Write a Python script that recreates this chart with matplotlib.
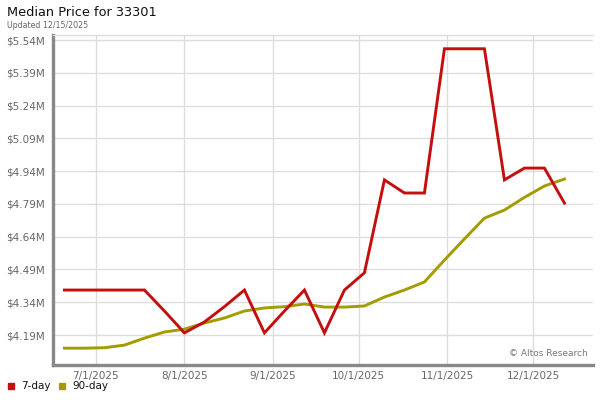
import matplotlib
matplotlib.use("Agg")
import matplotlib.pyplot as plt
import matplotlib.dates as mdates
import numpy as np
import datetime as dt

start = dt.date(2025, 6, 20)
dates = [start + dt.timedelta(days=7 * i) for i in range(26)]

seven_day = [4.396, 4.396, 4.396, 4.396, 4.396, 4.30, 4.20, 4.25, 4.32, 4.396,
             4.20, 4.30, 4.396, 4.20, 4.396, 4.475, 4.90, 4.84, 4.84, 5.50,
             5.50, 5.50, 4.90, 4.954, 4.954, 4.794]
ninety_day = [4.13, 4.13, 4.132, 4.144, 4.176, 4.204, 4.217, 4.245, 4.268, 4.30,
              4.314, 4.32, 4.332, 4.318, 4.318, 4.323, 4.364, 4.396, 4.433, 4.533,
              4.63, 4.725, 4.762, 4.82, 4.872, 4.904]

yticks = [4.19, 4.34, 4.49, 4.64, 4.79, 4.94, 5.09, 5.24, 5.39, 5.54]
xtick_dates = [dt.date(2025, m, 1) for m in range(7, 13)]

RED = "#C50F0F"
OLIVE = "#A39C00"
GRAY = "#888888"

fig = plt.figure(figsize=(6, 4), dpi=100)
ax = fig.add_axes([53 / 600, 1 - 365 / 400, 540 / 600, 330 / 400])

ax.plot(dates, ninety_day, color=OLIVE, lw=2.1, solid_joinstyle="miter", zorder=3)
ax.plot(dates, seven_day, color=RED, lw=2.1, solid_joinstyle="miter", zorder=4)

ax.set_xlim(dt.date(2025, 6, 16), dt.date(2025, 12, 22))
ax.set_ylim(4.053, 5.563)
ax.set_yticks(yticks)
ax.set_yticklabels([f"${v:.2f}M" for v in yticks])
ax.set_xticks(xtick_dates)
ax.set_xticklabels([f"{d.month}/{d.day}/{d.year}" for d in xtick_dates])
ax.tick_params(axis="both", length=0, labelsize=7.5, labelcolor="#666666")
ax.tick_params(axis="y", pad=6)
ax.tick_params(axis="x", pad=4)
ax.grid(True, color="#dddddd", lw=1)
ax.set_axisbelow(True)

ax.spines["right"].set_visible(False)
ax.spines["top"].set_color("#dddddd")
ax.spines["top"].set_linewidth(1)
for s in ["left", "bottom"]:
    ax.spines[s].set_color(GRAY)
    ax.spines[s].set_linewidth(2.4)

fig.text(7 / 600, 1 - 13 / 400, "Median Price for 33301", fontsize=9.3,
         color="#111111", va="center", ha="left")
fig.text(7 / 600, 1 - 25 / 400, "Updated 12/15/2025", fontsize=5.7,
         color="#666666", va="center", ha="left")

ax.text(0.99, 0.035, "\u00a9 Altos Research", transform=ax.transAxes,
        fontsize=6.5, color="#777777", ha="right", va="center")

# legend
fig.patches.append(plt.Rectangle((8 / 600, 1 - 389 / 400), 6 / 600, 6 / 400,
                                 transform=fig.transFigure, color=RED))
fig.text(21 / 600, 1 - 386 / 400, "7-day", fontsize=7.5, color="#111111", va="center")
fig.patches.append(plt.Rectangle((59 / 600, 1 - 389 / 400), 6 / 600, 6 / 400,
                                 transform=fig.transFigure, color=OLIVE))
fig.text(72 / 600, 1 - 386 / 400, "90-day", fontsize=7.5, color="#111111", va="center")

fig.savefig("out.png", dpi=100)
